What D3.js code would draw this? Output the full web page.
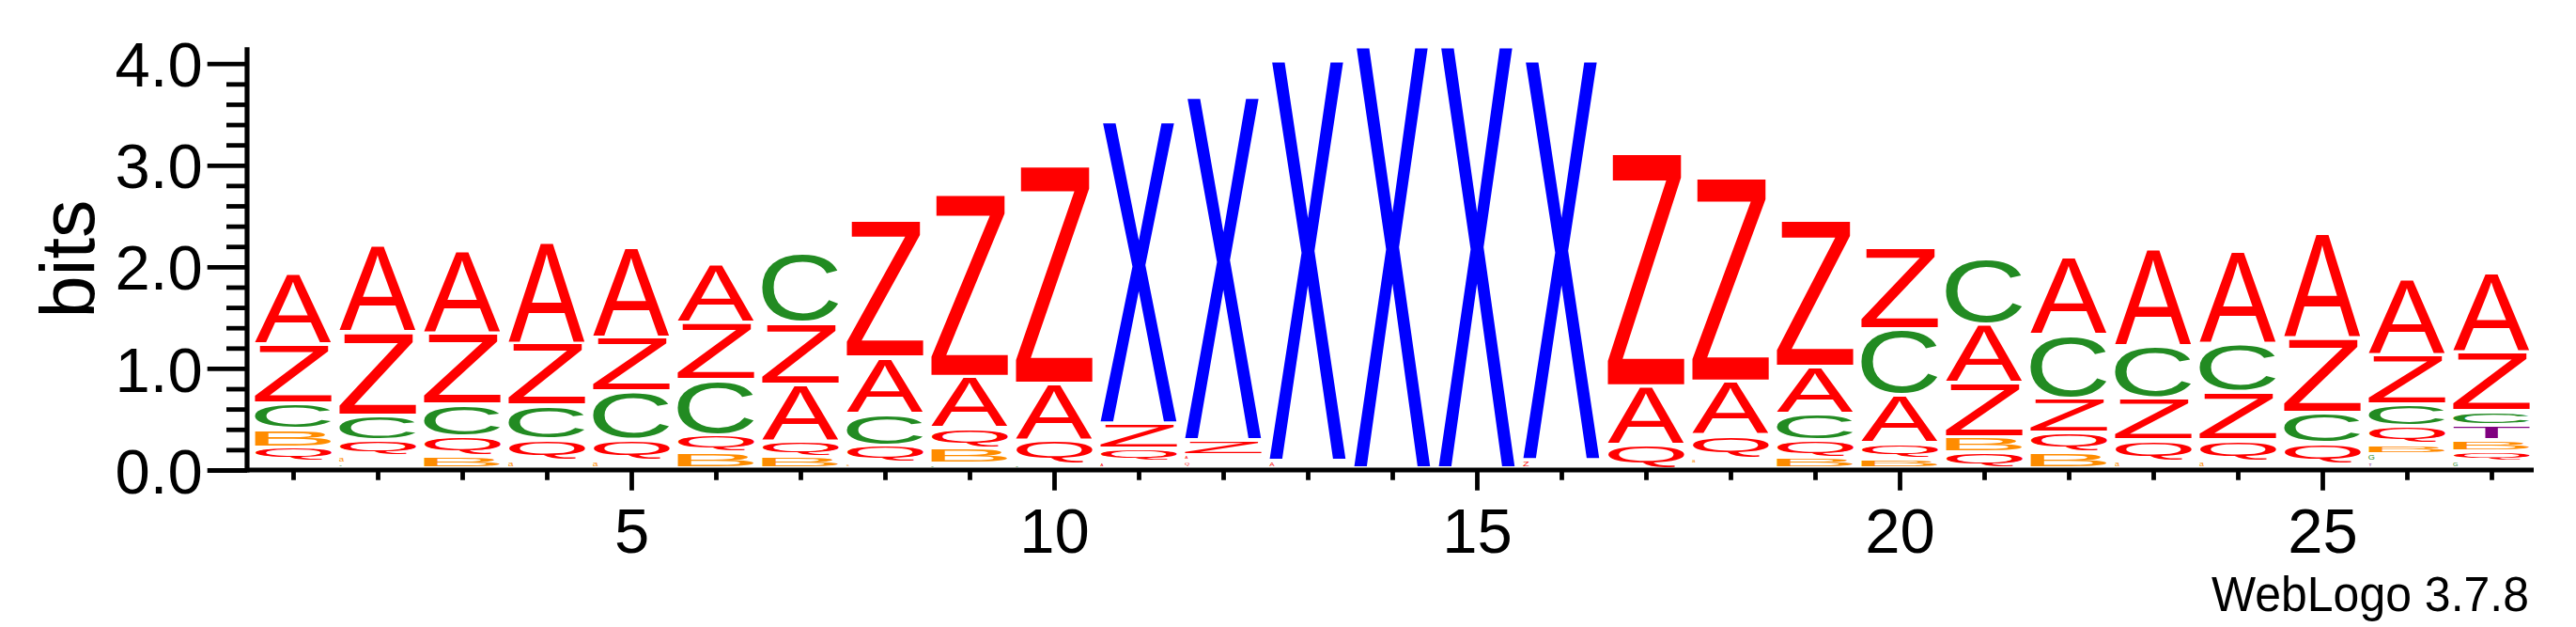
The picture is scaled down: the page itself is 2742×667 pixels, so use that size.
<!DOCTYPE html>
<html>
<head>
<meta charset="utf-8">
<script src="https://cdn.jsdelivr.net/npm/d3@7"></script>
<style>
html,body{margin:0;padding:0;background:#fff;}
svg{display:block;}
</style>
</head>
<body>
<svg id="chart" width="2742" height="667"></svg>
<script>
// ---------------- data (bottom -> top of each stack) ----------------
const positions = d3.range(1, 28);
const stackLetters = [
  ["G","a","Q","B","C","Z","A"],
  ["G","a","Q","C","Z","A"],
  ["B","Q","C","Z","A"],
  ["a","Q","C","Z","A"],
  ["a","Q","C","Z","A"],
  ["B","Q","C","Z","A"],
  ["B","Q","A","Z","C"],
  ["a","Q","C","A","Z"],
  ["G","B","Q","A","Z"],
  ["G","Q","A","Z"],
  ["A","Q","Z","X"],
  ["Q","A","Z","X"],
  ["A","X"],
  ["X"],
  ["X"],
  ["Z","X"],
  ["Q","A","Z"],
  ["G","a","Q","A","Z"],
  ["B","Q","C","A","Z"],
  ["B","Q","A","C","Z"],
  ["Q","B","Z","A","C"],
  ["B","Q","Z","C","A"],
  ["a","Q","Z","C","A"],
  ["a","Q","Z","C","A"],
  ["G","Q","C","Z","A"],
  ["T","G","B","Q","C","Z","A"],
  ["G","Q","B","T","C","Z","A"]
];
const stackBits = [
  [0.035,0.035,0.136,0.182,0.253,0.577,0.699],
  [0.05,0.073,0.154,0.241,0.823,0.853],
  [0.123,0.191,0.315,0.696,0.823],
  [0.075,0.209,0.333,0.616,0.995],
  [0.075,0.202,0.478,0.530,0.888],
  [0.154,0.176,0.539,0.564,0.586],
  [0.114,0.157,0.552,0.610,0.678],
  [0.05,0.172,0.317,0.549,1.353],
  [0.045,0.155,0.195,0.505,1.803],
  [0.045,0.232,0.555,2.152],
  [0.06,0.131,0.25,2.98],
  [0.07,0.06,0.147,3.385],
  [0.075,3.947],
  [4.161],
  [4.161],
  [0.08,3.942],
  [0.231,0.576,2.3],
  [0.04,0.06,0.224,0.53,2.012],
  [0.102,0.169,0.268,0.463,1.448],
  [0.10,0.147,0.477,0.647,0.802],
  [0.154,0.154,0.533,0.577,0.647],
  [0.16,0.187,0.339,0.624,0.77],
  [0.07,0.207,0.41,0.515,0.965],
  [0.07,0.207,0.472,0.475,0.918],
  [0.04,0.207,0.301,0.737,1.036],
  [0.06,0.08,0.10,0.176,0.216,0.487,0.746],
  [0.07,0.10,0.107,0.148,0.139,0.576,0.786]
];
const yMajorTicks = [0, 1, 2, 3, 4];
const yTickLabels = ["0.0", "1.0", "2.0", "3.0", "4.0"];
const xLabelTicks = [5, 10, 15, 20, 25];
const yAxisTop = 4.161;
const letterColors = {
  A: "#ff0000", Z: "#ff0000", Q: "#ff0000",
  C: "#228b22", G: "#228b22",
  B: "#ff8c00", a: "#ff8c00",
  X: "#0000ff", T: "#800080"
};

// ---------------- layout ----------------
const FONT = '"Liberation Sans", Arial, Helvetica, sans-serif';
const svg = d3.select("#chart");
const x = d3.scaleLinear().domain([1, 27]).range([312, 2652]);
const y = d3.scaleLinear().domain([0, 4]).range([500, 67.7]);
const stackWidth = 81.5;
const gapPx = 4;
const axisX = 263;
const lineW = 4.8;

// glyph ink metrics via canvas
const ctx = document.createElement("canvas").getContext("2d");
ctx.font = "100px " + FONT;
const inkCache = {};
function ink(ch) {
  if (!inkCache[ch]) {
    const m = ctx.measureText(ch);
    let L = m.actualBoundingBoxLeft, R = m.actualBoundingBoxRight,
        A = m.actualBoundingBoxAscent, D = m.actualBoundingBoxDescent;
    if (!(R + L > 0) || !(A + D > 0)) { L = -5; R = 65; A = 72; D = 0; }
    inkCache[ch] = {L, R, A, D};
  }
  return inkCache[ch];
}

// build letter records
const records = [];
positions.forEach((p, i) => {
  const tops = d3.cumsum(stackBits[i]);
  stackLetters[i].forEach((ch, k) => {
    const bottom = k === 0 ? 0 : tops[k - 1];
    const top = tops[k];
    const yTop = y(top), yBot = y(bottom);
    let h = yBot - yTop - gapPx;
    if (h <= 0.5) return;
    let w = stackWidth;
    const left = x(p) - stackWidth / 2;
    if (h < 6) { w = Math.max(2.5, h * 1.3); h = Math.max(h, 1.5); }
    const m = ink(ch);
    const sx = w / (m.L + m.R), sy = h / (m.A + m.D);
    records.push({ch, left, yTop, sx, sy, m});
  });
});

svg.append("g").attr("class", "stacks")
  .selectAll("text")
  .data(records)
  .join("text")
  .attr("font-family", FONT)
  .attr("font-size", 100)
  .attr("fill", d => letterColors[d.ch])
  .attr("transform", d => `translate(${d.left},${d.yTop}) scale(${d.sx},${d.sy}) translate(${d.m.L},${d.m.A})`)
  .text(d => d.ch);

// ---------------- y axis ----------------
const minorTicks = d3.range(0, 4.0001, 0.2).filter(v => Math.abs(v - Math.round(v)) > 1e-6);
const yMinor = svg.append("g").attr("transform", `translate(${axisX},0)`)
  .call(d3.axisLeft(y).tickValues(minorTicks).tickSize(22).tickSizeOuter(0).tickFormat(""));
yMinor.select(".domain").remove();
yMinor.selectAll("line").attr("stroke", "#000").attr("stroke-width", lineW);

const yMajor = svg.append("g").attr("transform", `translate(${axisX},0)`)
  .call(d3.axisLeft(y).tickValues(yMajorTicks).tickSize(42.3).tickSizeOuter(0).tickPadding(5)
    .tickFormat((d, i) => yTickLabels[i]));
yMajor.select(".domain").remove();
yMajor.selectAll("line").attr("stroke", "#000").attr("stroke-width", lineW);
yMajor.selectAll("text").attr("font-family", FONT).attr("font-size", 67).attr("fill", "#000").attr("dy", "0.36em");
yMajor.attr("font-family", null).attr("font-size", null);

svg.append("line")
  .attr("x1", axisX).attr("x2", axisX)
  .attr("y1", y(yAxisTop)).attr("y2", y(0) + lineW / 2)
  .attr("stroke", "#000").attr("stroke-width", 5.2);

// ---------------- x axis ----------------
const xShort = svg.append("g").attr("transform", `translate(0,${y(0)})`)
  .call(d3.axisBottom(x).tickValues(positions.filter(p => p % 5 !== 0)).tickSize(10.7).tickSizeOuter(0).tickFormat(""));
xShort.select(".domain").remove();
xShort.selectAll("line").attr("stroke", "#000").attr("stroke-width", lineW);

const xLong = svg.append("g").attr("transform", `translate(0,${y(0)})`)
  .call(d3.axisBottom(x).tickValues(xLabelTicks).tickSize(21.7).tickSizeOuter(0).tickPadding(18.7).tickFormat(d3.format("d")));
xLong.select(".domain").remove();
xLong.selectAll("line").attr("stroke", "#000").attr("stroke-width", lineW);
xLong.selectAll("text").attr("font-family", FONT).attr("font-size", 67).attr("fill", "#000");

svg.append("line")
  .attr("x1", axisX).attr("x2", 2697)
  .attr("y1", y(0)).attr("y2", y(0))
  .attr("stroke", "#000").attr("stroke-width", lineW);

// ---------------- labels ----------------
svg.append("text")
  .attr("transform", "translate(100,275.5) rotate(-90)")
  .attr("text-anchor", "middle")
  .attr("font-family", FONT)
  .attr("font-size", 81)
  .attr("fill", "#000")
  .text("bits");

svg.append("text")
  .attr("x", 2354).attr("y", 650)
  .attr("font-family", FONT)
  .attr("font-size", 51)
  .attr("textLength", 338)
  .attr("lengthAdjust", "spacingAndGlyphs")
  .attr("fill", "#000")
  .text("WebLogo 3.7.8");
</script>
</body>
</html>
